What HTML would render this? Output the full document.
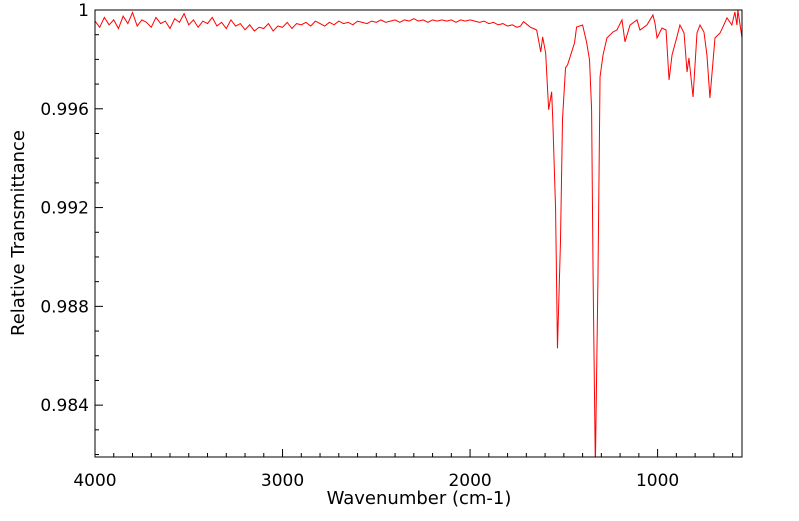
<!DOCTYPE html>
<html><head><meta charset="utf-8"><style>
body{margin:0;background:#fff;}
svg text{font-family:"DejaVu Sans","Liberation Sans",sans-serif;fill:#000;}
</style></head><body>
<svg id="chart" width="799" height="516" xmlns="http://www.w3.org/2000/svg">
<defs><clipPath id="clip"><rect x="95" y="10" width="647" height="447"/></clipPath></defs>
<g id="grid"></g>
<path id="line" fill="none" stroke="#ff0000" stroke-width="1" clip-path="url(#clip)"/>
<rect x="95" y="10" width="647" height="447" fill="none" stroke="#000" stroke-width="1"/>
<text x="419" y="504" font-size="18" text-anchor="middle">Wavenumber (cm-1)</text>
<text transform="translate(24,233) rotate(-90)" font-size="18" text-anchor="middle">Relative Transmittance</text>
</svg>
<script>
const xTicks=[4000,3000,2000,1000];
const yTicks=[1,0.996,0.992,0.988,0.984];
const yTickLabels=["1","0.996","0.992","0.988","0.984"];
const baseWn=[];for(let w=4000;w>=1750;w-=25)baseWn.push(w);
const baseTr=[0.99955,0.99930,0.99970,0.99940,0.99960,0.99925,0.99975,0.99945,0.99990,0.99935,0.99960,0.99950,0.99930,0.99970,0.99945,0.99955,0.99925,0.99965,0.99950,0.99985,0.99940,0.99960,0.99930,0.99955,0.99945,0.99970,0.99935,0.99950,0.99925,0.99960,0.99935,0.99945,0.99920,0.99940,0.99915,0.99930,0.99925,0.99945,0.99915,0.99935,0.99930,0.99950,0.99925,0.99945,0.99940,0.99950,0.99935,0.99955,0.99945,0.99935,0.99950,0.99940,0.99955,0.99945,0.99950,0.99940,0.99955,0.99950,0.99945,0.99955,0.99950,0.99960,0.99950,0.99955,0.99960,0.99950,0.99960,0.99955,0.99965,0.99955,0.99960,0.99950,0.99960,0.99955,0.99960,0.99955,0.99960,0.99950,0.99960,0.99955,0.99960,0.99955,0.99950,0.99955,0.99945,0.99950,0.99940,0.99945,0.99935,0.99940,0.99930,0.99935];
const featWn=[1731,1715,1694,1678,1662,1645,1623,1613,1597,1581,1565,1559,1544,1534,1518,1507,1491,1480,1443,1432,1400,1379,1363,1352,1344,1332,1318,1307,1291,1270,1254,1238,1217,1190,1174,1147,1110,1094,1057,1025,1014,1003,977,955,939,923,897,881,859,843,833,811,790,774,753,737,721,694,667,652,630,604,588,577,572,550];
const featTr=[0.99953,0.99940,0.99930,0.99925,0.99919,0.99830,0.99891,0.99826,0.99596,0.99669,0.99556,0.99192,0.98630,0.99059,0.99560,0.99766,0.99778,0.99867,0.99931,0.99939,0.99871,0.99798,0.99596,0.98921,0.98150,0.98921,0.99729,0.99818,0.99887,0.99899,0.99911,0.99919,0.99960,0.99871,0.99939,0.99960,0.99919,0.99939,0.99980,0.99947,0.99887,0.99927,0.99919,0.99717,0.99818,0.99891,0.99939,0.99907,0.99749,0.99806,0.99648,0.99907,0.99939,0.99911,0.99818,0.99644,0.99887,0.99907,0.99931,0.99968,0.99939,0.99992,0.99939,1.00000,0.99887,0.99968];
const X0=4000,X1=550,Y0=0.98190,Y1=1.0;
const sx=w=>95+(X0-w)/(X0-X1)*647;
const sy=v=>10+(Y1-v)/(Y1-Y0)*447;
const wn=baseWn.concat(featWn),tr=baseTr.concat(featTr);
let d="";for(let i=0;i<wn.length;i++)d+=(i?"L":"M")+sx(wn[i]).toFixed(2)+","+sy(tr[i]).toFixed(2);
document.getElementById("line").setAttribute("d",d);
const g=document.getElementById("grid");const NS="http://www.w3.org/2000/svg";
function ln(x1,y1,x2,y2,name){const l=document.createElementNS(NS,"line");l.setAttribute("x1",x1);l.setAttribute("y1",y1);l.setAttribute("x2",x2);l.setAttribute("y2",y2);l.setAttribute("stroke","#000");


g.appendChild(l);}
function tx(x,y,s,anchor,name){const t=document.createElementNS(NS,"text");t.setAttribute("x",x);t.setAttribute("y",y);t.setAttribute("font-size","17");t.setAttribute("text-anchor",anchor);t.textContent=s;


g.appendChild(t);}
for(let w=4000;w>=600;w-=100){const x=sx(w);const major=w%1000===0;ln(x,457,x,457-(major?8:4),major?"x-major-tick":"x-minor-tick");}
xTicks.forEach(w=>tx(sx(w),486,String(w),"middle","x-tick-label"));
for(let k=0;k<=18;k++){const v=1-k*0.001;if(v<Y0)break;const y=sy(v);const major=k%4===0;ln(95,y,95+(major?8:4),y,major?"y-major-tick":"y-minor-tick");}
yTicks.forEach((v,i)=>tx(89,sy(v)+6,yTickLabels[i],"end","y-tick-label"));
</script>
</body></html>
